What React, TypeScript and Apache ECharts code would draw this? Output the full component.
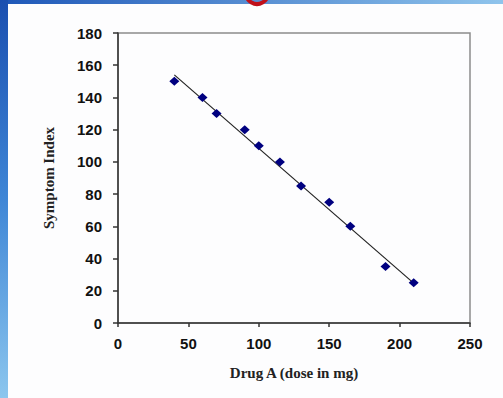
import React, { useEffect, useRef } from "react";
import * as echarts from "echarts";

const doses = [40, 60, 70, 90, 100, 115, 130, 150, 165, 190, 210];
const symptomIndex = [150, 140, 130, 120, 110, 100, 85, 75, 60, 35, 25];
const trendX = [40, 211];
const trendY = [154, 24];
const yTicks = [0, 180, 20];
const xTicks = [0, 250, 50];

export default function App() {
  const ref = useRef<HTMLDivElement>(null);
  useEffect(() => {
    if (!ref.current) return;
    const chart = echarts.init(ref.current, undefined, { renderer: "svg" });
    const points = doses.map((d, i) => [d, symptomIndex[i]]);
    const trend = trendX.map((d, i) => [d, trendY[i]]);
    chart.setOption({
      animation: false,
      backgroundColor: "#fdfdfe",
      graphic: [
        {
          type: "rect",
          shape: { x: 0, y: 0, width: 503, height: 4 },
          style: {
            fill: new echarts.graphic.LinearGradient(0, 0, 1, 0, [
              { offset: 0, color: "#1e57b8" },
              { offset: 1, color: "#8fc4ec" },
            ]),
          },
          silent: true,
        },
        {
          type: "rect",
          shape: { x: 0, y: 0, width: 8, height: 398 },
          style: {
            fill: new echarts.graphic.LinearGradient(0, 0, 0, 1, [
              { offset: 0, color: "#1a4fb0" },
              { offset: 0.5, color: "#3f86d6" },
              { offset: 1, color: "#8cc6ee" },
            ]),
          },
          silent: true,
        },
        {
          type: "circle",
          shape: { cx: 257, cy: -7, r: 11 },
          style: { fill: "none", stroke: "#c0101a", lineWidth: 4 },
          silent: true,
        },
      ],
      grid: {
        left: 118,
        top: 33,
        right: 33,
        bottom: 75,
        show: true,
        borderColor: "#8c8c8c",
        borderWidth: 1.5,
        backgroundColor: "transparent",
      },
      xAxis: {
        type: "value",
        min: xTicks[0],
        max: xTicks[1],
        interval: xTicks[2],
        name: "Drug A (dose in mg)",
        nameLocation: "middle",
        nameGap: 42,
        nameTextStyle: {
          fontFamily: "Liberation Serif",
          fontWeight: "bold",
          fontSize: 15,
          color: "#222",
        },
        axisLine: { show: true, lineStyle: { color: "#333", width: 1.5 } },
        axisTick: { show: true, length: 4, lineStyle: { color: "#333", width: 1.5 } },
        splitLine: { show: false },
        axisLabel: {
          margin: 13,
          fontFamily: "Liberation Sans",
          fontWeight: "bold",
          fontSize: 15,
          color: "#111",
        },
      },
      yAxis: {
        type: "value",
        min: yTicks[0],
        max: yTicks[1],
        interval: yTicks[2],
        name: "Symptom Index",
        nameLocation: "middle",
        nameGap: 62,
        nameTextStyle: {
          fontFamily: "Liberation Serif",
          fontWeight: "bold",
          fontSize: 15,
          color: "#222",
        },
        axisLine: { show: true, lineStyle: { color: "#333", width: 1.5 } },
        axisTick: { show: true, length: 5, lineStyle: { color: "#333", width: 1.5 } },
        splitLine: { show: false },
        axisLabel: {
          margin: 16,
          fontFamily: "Liberation Sans",
          fontWeight: "bold",
          fontSize: 15,
          color: "#111",
        },
      },
      series: [
        {
          type: "line",
          data: trend,
          symbol: "none",
          lineStyle: { color: "#222", width: 1.2 },
          z: 2,
        },
        {
          type: "scatter",
          data: points,
          symbol: "diamond",
          symbolSize: [10, 9],
          itemStyle: { color: "#000080", opacity: 1 },
          z: 3,
        },
      ],
    });
    return () => chart.dispose();
  }, []);
  return (
    <div
      ref={ref}
      style={{ position: "fixed", left: 0, top: 0, width: 503, height: 398 }}
    />
  );
}
